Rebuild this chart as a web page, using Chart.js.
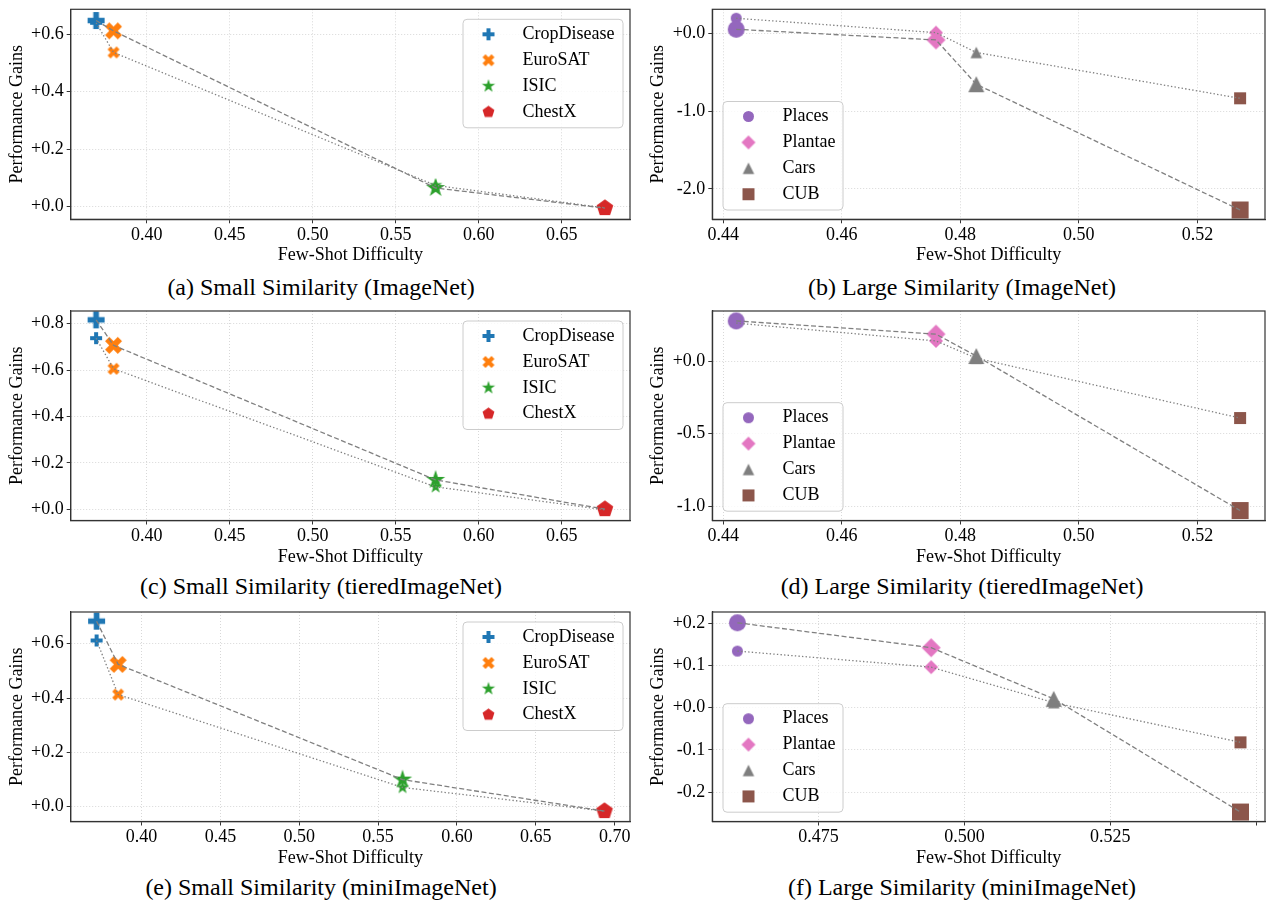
<!DOCTYPE html>
<html>
<head>
<meta charset="utf-8">
<script src="https://cdn.jsdelivr.net/npm/chart.js@4.4.1/dist/chart.umd.min.js"></script>
<style>
  html, body { margin: 0; padding: 0; background: #fff; }
  body { width: 1274px; height: 900px; position: relative; overflow: hidden; font-family: "Liberation Serif", "Times New Roman", serif; }
  canvas.panel { position: absolute; }
  .cap { position: absolute; font-size: 24px; line-height: 28px; color: #000; white-space: nowrap; transform: translateX(-50%); }
</style>
</head>
<body>
<script>
const FONT = "'Liberation Serif', 'Times New Roman', serif";

// ---------------- data ----------------
const smallDomains = ['CropDisease', 'EuroSAT', 'ISIC', 'ChestX'];
const smallColors  = ['#1f77b4', '#ff7f0e', '#2ca02c', '#d62728'];
const smallShapes  = ['plus', 'x', 'star', 'pentagon'];
const largeDomains = ['Places', 'Plantae', 'Cars', 'CUB'];
const largeColors  = ['#9467bd', '#e377c2', '#7f7f7f', '#8c564b'];
const largeShapes  = ['circle', 'diamond', 'triangle', 'square'];

// (a) Small Similarity (ImageNet)
const aDifficulty = [0.3695, 0.380, 0.574, 0.676];
const aGainDashed = [0.648, 0.612, 0.065, -0.005];
const aGainDotted = [0.640, 0.537, 0.074, -0.004];
// (b) Large Similarity (ImageNet)
const bDifficulty = [0.4422, 0.4759, 0.4827, 0.5272];
const bGainDashed = [0.051, -0.086, -0.655, -2.271];
const bGainDotted = [0.193, 0.008, -0.247, -0.836];
// (c) Small Similarity (tieredImageNet)
const cDifficulty = [0.3695, 0.380, 0.574, 0.676];
const cGainDashed = [0.817, 0.707, 0.127, 0.001];
const cGainDotted = [0.738, 0.606, 0.097, -0.002];
// (d) Large Similarity (tieredImageNet)
const dDifficulty = [0.4422, 0.4759, 0.4827, 0.5272];
const dGainDashed = [0.277, 0.186, 0.035, -1.031];
const dGainDotted = [0.262, 0.139, 0.020, -0.393];
// (e) Small Similarity (miniImageNet)
const eDifficulty = [0.3715, 0.3852, 0.5655, 0.6935];
const eGainDashed = [0.683, 0.524, 0.100, -0.016];
const eGainDotted = [0.612, 0.413, 0.071, -0.016];
// (f) Large Similarity (miniImageNet)
const fDifficulty = [0.4611, 0.4943, 0.5153, 0.5473];
const fGainDashed = [0.201, 0.142, 0.021, -0.247];
const fGainDotted = [0.134, 0.096, 0.012, -0.082];

// ticks
const xTicksAC = [0.40, 0.45, 0.50, 0.55, 0.60, 0.65];
const xLabelsAC = ['0.40', '0.45', '0.50', '0.55', '0.60', '0.65'];
const xTicksBD = [0.44, 0.46, 0.48, 0.50, 0.52];
const xLabelsBD = ['0.44', '0.46', '0.48', '0.50', '0.52'];
const xTicksE = [0.40, 0.45, 0.50, 0.55, 0.60, 0.65, 0.70];
const xLabelsE = ['0.40', '0.45', '0.50', '0.55', '0.60', '0.65', '0.70'];
const xTicksF = [0.475, 0.500, 0.525, 0.550];
const xLabelsF = ['0.475', '0.500', '0.525', ''];
const yTicksA = [0.0, 0.2, 0.4, 0.6];
const yLabelsA = ['+0.0', '+0.2', '+0.4', '+0.6'];
const yTicksB = [-2.0, -1.0, 0.0];
const yLabelsB = ['-2.0', '-1.0', '+0.0'];
const yTicksC = [0.0, 0.2, 0.4, 0.6, 0.8];
const yLabelsC = ['+0.0', '+0.2', '+0.4', '+0.6', '+0.8'];
const yTicksD = [-1.0, -0.5, 0.0];
const yLabelsD = ['-1.0', '-0.5', '+0.0'];
const yTicksE = [0.0, 0.2, 0.4, 0.6];
const yLabelsE = ['+0.0', '+0.2', '+0.4', '+0.6'];
const yTicksF = [-0.2, -0.1, 0.0, 0.1, 0.2];
const yLabelsF = ['-0.2', '-0.1', '+0.0', '+0.1', '+0.2'];

const captions = [
  '(a) Small Similarity (ImageNet)',
  '(b) Large Similarity (ImageNet)',
  '(c) Small Similarity (tieredImageNet)',
  '(d) Large Similarity (tieredImageNet)',
  '(e) Small Similarity (miniImageNet)',
  '(f) Large Similarity (miniImageNet)'
];
const xTitle = 'Few-Shot Difficulty';
const yTitle = 'Performance Gains';

// ---------------- styling / layout ----------------
const colGeom = [
  { left: 0,   width: 640, L: 70.7, padR: 10,  yTitlePad: 6.2, capCx: 321, legend: 'ur' },
  { left: 640, width: 634, L: 72.3, padR: 2.3, yTitlePad: 7.2, capCx: 962, legend: 'll' }
];
const rowGeom = [
  { plotTop: 9.3,   capCy: 287.3 },
  { plotTop: 310.5, capCy: 586 },
  { plotTop: 611.5, capCy: 887 }
];
const PLOT_H = 210;
const BELOW = 46.7;

const markerSizes = {
  plus: [17, 12], x: [17, 12], star: [20, 14], pentagon: [17.5, 12.5],
  circle: [17, 11], diamond: [19, 14], triangle: [16, 11.5], square: [17, 12]
};

function markerCanvas(shape, color, size) {
  const s = Math.ceil(size) + 4;
  const c = document.createElement('canvas');
  c.width = s; c.height = s;
  const g = c.getContext('2d');
  g.translate(s / 2, s / 2);
  g.fillStyle = color;
  const r = size / 2;
  g.beginPath();
  const poly = (pts, sc) => {
    pts.forEach((p, i) => i ? g.lineTo(p[0] * sc, -p[1] * sc) : g.moveTo(p[0] * sc, -p[1] * sc));
    g.closePath();
  };
  if (shape === 'circle') g.arc(0, 0, r, 0, 2 * Math.PI);
  else if (shape === 'square') g.rect(-r, -r, 2 * r, 2 * r);
  else if (shape === 'diamond') poly([[0, 1], [1, 0], [0, -1], [-1, 0]], r);
  else if (shape === 'triangle') poly([[0, 1], [-1, -1], [1, -1]], r);
  else if (shape === 'plus') poly([[-1,-3],[1,-3],[1,-1],[3,-1],[3,1],[1,1],[1,3],[-1,3],[-1,1],[-3,1],[-3,-1],[-1,-1]], r / 3);
  else if (shape === 'x') poly([[-1,-2],[0,-1],[1,-2],[2,-1],[1,0],[2,1],[1,2],[0,1],[-1,2],[-2,1],[-1,0],[-2,-1]], r / 2);
  else if (shape === 'star') {
    const pts = [];
    for (let k = 0; k < 10; k++) { const rr = k % 2 ? 0.381966 : 1; const a = Math.PI / 2 + k * Math.PI / 5; pts.push([rr * Math.cos(a), rr * Math.sin(a)]); }
    poly(pts, r);
  } else if (shape === 'pentagon') {
    const pts = [];
    for (let k = 0; k < 5; k++) { const a = Math.PI / 2 + k * 2 * Math.PI / 5; pts.push([Math.cos(a), Math.sin(a)]); }
    poly(pts, r);
  }
  g.fill();
  return c;
}

const spinePlugin = {
  id: 'spines',
  afterDatasetsDraw(chart) {
    const { ctx, chartArea: ca } = chart;
    ctx.save();
    ctx.strokeStyle = '#333';
    ctx.lineWidth = 1.2;
    ctx.strokeRect(ca.left, ca.top, ca.right - ca.left, ca.bottom - ca.top);
    ctx.restore();
  }
};

const legendPlugin = {
  id: 'boxLegend',
  afterDraw(chart, args, opts) {
    if (!opts || !opts.labels) return;
    const { ctx, chartArea: ca } = chart;
    const w = opts.width, h = opts.height;
    let x0, y0;
    if (opts.corner === 'ur') { x0 = ca.right - 7 - w; y0 = ca.top + 10; }
    else { x0 = ca.left + 10.7; y0 = ca.bottom - 9.3 - h; }
    const rad = 4;
    ctx.save();
    ctx.beginPath();
    ctx.moveTo(x0 + rad, y0);
    ctx.lineTo(x0 + w - rad, y0); ctx.arcTo(x0 + w, y0, x0 + w, y0 + rad, rad);
    ctx.lineTo(x0 + w, y0 + h - rad); ctx.arcTo(x0 + w, y0 + h, x0 + w - rad, y0 + h, rad);
    ctx.lineTo(x0 + rad, y0 + h); ctx.arcTo(x0, y0 + h, x0, y0 + h - rad, rad);
    ctx.lineTo(x0, y0 + rad); ctx.arcTo(x0, y0, x0 + rad, y0, rad);
    ctx.closePath();
    ctx.fillStyle = 'rgba(255,255,255,0.8)';
    ctx.fill();
    ctx.strokeStyle = '#cccccc';
    ctx.lineWidth = 1;
    ctx.stroke();
    ctx.font = `18px ${FONT}`;
    ctx.fillStyle = '#000';
    ctx.textBaseline = 'middle';
    ctx.textAlign = 'left';
    opts.labels.forEach((lab, i) => {
      const cy = y0 + 15 + i * 25.9;
      const img = opts.markers[i];
      ctx.drawImage(img, x0 + 25.5 - img.width / 2, cy - img.height / 2);
      ctx.fillText(lab, x0 + 59.5, cy);
    });
    ctx.restore();
  }
};

const panels = [
  { col: 0, row: 0, kind: 'small', x: aDifficulty, dashed: aGainDashed, dotted: aGainDotted, xr: [0.3542, 0.6911], yr: [-0.0439, 0.687], xt: xTicksAC, xl: xLabelsAC, yt: yTicksA, yl: yLabelsA, cap: captions[0] },
  { col: 1, row: 0, kind: 'large', x: bDifficulty, dashed: bGainDashed, dotted: bGainDotted, xr: [0.43817, 0.5314], yr: [-2.391, 0.308], xt: xTicksBD, xl: xLabelsBD, yt: yTicksB, yl: yLabelsB, cap: captions[1] },
  { col: 0, row: 1, kind: 'small', x: cDifficulty, dashed: cGainDashed, dotted: cGainDotted, xr: [0.3542, 0.6911], yr: [-0.048, 0.855], xt: xTicksAC, xl: xLabelsAC, yt: yTicksC, yl: yLabelsC, cap: captions[2] },
  { col: 1, row: 1, kind: 'large', x: dDifficulty, dashed: dGainDashed, dotted: dGainDotted, xr: [0.43817, 0.5314], yr: [-1.0998, 0.3455], xt: xTicksBD, xl: xLabelsBD, yt: yTicksD, yl: yLabelsD, cap: captions[3] },
  { col: 0, row: 2, kind: 'small', x: eDifficulty, dashed: eGainDashed, dotted: eGainDotted, xr: [0.3551, 0.7097], yr: [-0.0543, 0.7168], xt: xTicksE, xl: xLabelsE, yt: yTicksE, yl: yLabelsE, cap: captions[4] },
  { col: 1, row: 2, kind: 'large', x: fDifficulty, dashed: fGainDashed, dotted: fGainDotted, xr: [0.4568, 0.5515], yr: [-0.2694, 0.2265], xt: xTicksF, xl: xLabelsF, yt: yTicksF, yl: yLabelsF, cap: captions[5] }
];

const GRID = { color: '#d4d4d4', lineWidth: 0.9, tickColor: '#333', tickLength: 4, tickWidth: 1, borderDash: [1, 2] };

panels.forEach(p => {
  const cg = colGeom[p.col], rg = rowGeom[p.row];
  const canvasTop = Math.round(rg.plotTop) - 9;
  const padTop = rg.plotTop - canvasTop;
  const H = Math.ceil(padTop + PLOT_H + BELOW);
  const B = H - padTop - PLOT_H;

  const domains = p.kind === 'small' ? smallDomains : largeDomains;
  const colors = p.kind === 'small' ? smallColors : largeColors;
  const shapes = p.kind === 'small' ? smallShapes : largeShapes;
  const bigMarkers = shapes.map((s, i) => markerCanvas(s, colors[i], markerSizes[s][0]));
  const smallMarkers = shapes.map((s, i) => markerCanvas(s, colors[i], markerSizes[s][1]));
  const legendMarkers = shapes.map((s, i) => markerCanvas(s, colors[i], markerSizes[s][1]));

  const cv = document.createElement('canvas');
  cv.className = 'panel';
  cv.width = cg.width; cv.height = H;
  cv.style.left = cg.left + 'px';
  cv.style.top = canvasTop + 'px';
  cv.style.width = cg.width + 'px';
  cv.style.height = H + 'px';
  document.body.appendChild(cv);

  const cap = document.createElement('div');
  cap.className = 'cap';
  cap.textContent = p.cap;
  cap.style.left = cg.capCx + 'px';
  cap.style.top = (rg.capCy - 14) + 'px';
  document.body.appendChild(cap);

  const ptsDashed = p.x.map((v, i) => ({ x: v, y: p.dashed[i] }));
  const ptsDotted = p.x.map((v, i) => ({ x: v, y: p.dotted[i] }));

  new Chart(cv, {
    type: 'scatter',
    data: {
      datasets: [
        { label: 'dashed line', data: ptsDashed, showLine: true, borderColor: '#808080', borderWidth: 1.3, borderDash: [5, 2.5], pointRadius: 0, fill: false, tension: 0, clip: false },
        { label: 'dotted line', data: ptsDotted, showLine: true, borderColor: '#808080', borderWidth: 1.3, borderDash: [1.4, 2.2], pointRadius: 0, fill: false, tension: 0, clip: false },
        { label: 'large markers', data: ptsDashed, showLine: false, pointStyle: bigMarkers, pointRadius: 8, clip: false },
        { label: 'small markers', data: ptsDotted, showLine: false, pointStyle: smallMarkers, pointRadius: 6, clip: false }
      ]
    },
    options: {
      responsive: false,
      animation: false,
      devicePixelRatio: 1,
      events: [],
      layout: { padding: { top: padTop, right: cg.padR, left: 0, bottom: 0 } },
      plugins: {
        legend: { display: false },
        tooltip: { enabled: false },
        boxLegend: { corner: cg.legend, width: p.kind === 'small' ? 160 : 120, height: 108.5, labels: domains, markers: legendMarkers }
      },
      scales: {
        x: {
          type: 'linear', min: p.xr[0], max: p.xr[1],
          afterBuildTicks: s => { s.ticks = p.xt.map(v => ({ value: v })); },
          afterFit: s => { s.height = B; s.paddingLeft = 0; s.paddingRight = 0; s.paddingTop = 0; s.paddingBottom = 0; },
          ticks: { autoSkip: false, maxRotation: 0, minRotation: 0, padding: 1, color: '#000', font: { family: FONT, size: 18 },
                   callback: (v, i) => p.xl[i] },
          grid: GRID,
          border: { display: true, color: '#333', width: 1.2, dash: [1, 2] },
          title: { display: true, text: xTitle, color: '#000', font: { family: FONT, size: 18 }, padding: { top: 0, bottom: 0 } }
        },
        y: {
          type: 'linear', min: p.yr[0], max: p.yr[1],
          afterBuildTicks: s => { s.ticks = p.yt.map(v => ({ value: v })); },
          afterFit: s => { s.width = cg.L; s.paddingLeft = 0; s.paddingRight = 0; s.paddingTop = 0; s.paddingBottom = 0; },
          ticks: { autoSkip: false, padding: 3, color: '#000', font: { family: FONT, size: 18 },
                   callback: (v, i) => p.yl[i] },
          grid: GRID,
          border: { display: true, color: '#333', width: 1.2, dash: [1, 2] },
          title: { display: true, text: yTitle, color: '#000', font: { family: FONT, size: 18 }, padding: { top: cg.yTitlePad, bottom: 0 } }
        }
      }
    },
    plugins: [spinePlugin, legendPlugin]
  });
});
</script>
</body>
</html>
